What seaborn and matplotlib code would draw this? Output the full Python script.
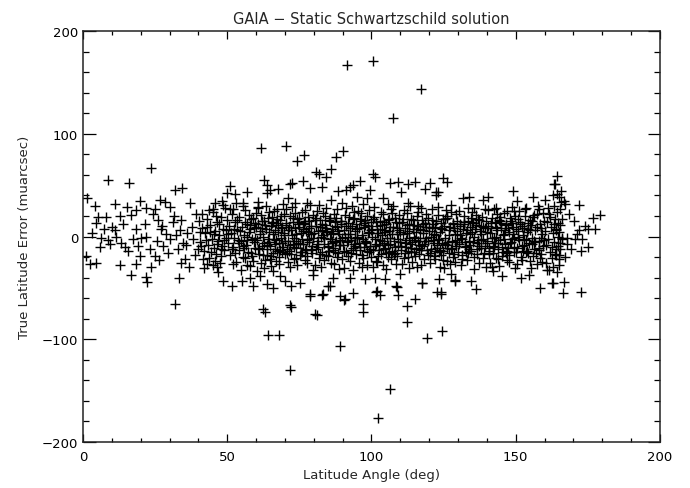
import numpy as np
import pandas as pd
import matplotlib
matplotlib.use("Agg")
import matplotlib.pyplot as plt
import seaborn as sns

# Punkte (Breitengrad in deg, Fehler in muarcsec), vom Bild abgelesen
# linker Rand 0-40 deg
pts_edge_left = [
    (1.4, 37), (4.0, 30), (11.2, 32), (19.9, 35), (15.3, 29), (18.5, 26), (26.6, 36),
    (28.3, 34), (37.2, 33), (5.2, 19), (8.1, 19), (4.6, 13), (12.9, 20), (16.7, 21),
    (7.2, 7), (11.0, 6), (6.4, -1), (6.0, -10), (9.2, -7), (0.9, -19), (2.3, -27),
    (4.4, -26), (12.7, -28), (16.5, -37), (18.3, -27), (21.9, -39), (22.3, -44),
    (23.7, -30), (33.3, -40), (13.3, -6), (14.4, -10), (15.6, -14), (11.6, 0),
    (19.1, -9), (19.6, -19), (18.5, 7), (20.2, -1), (21.4, 12), (24.3, 22), (24.8, 27),
    (23.1, -12), (24.8, -19), (26.3, -23), (27.7, -9), (28.9, 2), (27.1, 7), (30.0, -2),
    (31.2, 14), (33.5, 6), (34.5, -6), (32.9, -12), (35.2, -22), (36.7, -30), (37.7, 9),
    (38.1, -2), (39.3, 22), (39.9, -12), (40.4, 4), (30.3, 29), (31.4, 20), (21.9, 28),
    (27.4, 10), (21.9, 0), (3.1, 3), (8.8, -3), (14.0, 12), (17.3, -2), (25.5, -4),
    (29.5, -16), (32.2, 1), (34.0, 16), (35.8, -8), (36.2, 3), (38.8, -18), (33.8, -26),
    (26.0, 16), (10.1, 9),
]

pts_040_050 = [
    (40.5, -5), (41.2, 8), (41.8, -14), (42.3, 3), (42.9, 17), (43.4, -8), (43.8, -21),
    (44.1, 11), (44.6, -2), (45.0, 24), (45.3, -11), (45.7, 5), (46.0, -17), (46.4, 14),
    (46.8, -4), (47.1, 1), (47.5, -26), (47.9, 19), (48.2, -9), (48.6, 7), (49.0, -13),
    (49.3, 28), (49.7, -1), (40.2, 15), (41.5, -22), (42.7, -3), (43.1, 9), (44.3, -15),
    (45.5, 2), (46.2, 20), (46.6, -7), (47.3, 12), (48.0, -19), (48.8, -3), (49.5, 6),
    (42.0, -31), (44.9, -28), (46.9, -35), (48.4, 31), (43.6, 26), (45.9, -24),
    (47.7, -12), (49.9, 16), (41.0, -9), (44.0, 4),
]

pts_050_060 = [
    (50.2, -6), (50.6, 10), (51.0, -18), (51.3, 3), (51.7, 22), (52.0, -10), (52.4, -1),
    (52.8, 14), (53.1, -25), (53.5, 6), (53.9, -13), (54.2, 19), (54.6, -4), (55.0, 9),
    (55.3, -20), (55.7, 1), (56.1, 26), (56.5, -8), (56.8, 12), (57.2, -15), (57.6, 4),
    (58.0, -29), (58.3, 17), (58.7, -2), (59.1, 8), (59.5, -11), (59.8, 23), (50.9, 27),
    (51.9, -27), (52.6, -16), (53.3, 16), (54.0, -6), (54.9, -33), (55.5, 30),
    (56.3, -21), (57.0, 0), (57.9, 11), (58.5, -19), (59.3, -5), (50.4, 2), (52.2, 7),
    (53.7, -3), (55.9, -11), (57.4, 21), (58.9, -24), (51.5, -12), (54.4, 5),
    (56.7, -28), (59.7, 13), (53.0, 33),
]

pts_060_070 = [
    (60.2, -3), (60.5, 12), (60.9, -17), (61.3, 5), (61.6, 21), (62.0, -9), (62.4, 0),
    (62.7, 15), (63.1, -23), (63.5, 7), (63.8, -12), (64.2, 18), (64.6, -5), (65.0, 10),
    (65.3, -19), (65.7, 2), (66.1, 25), (66.4, -7), (66.8, 13), (67.2, -14), (67.5, 4),
    (67.9, -27), (68.3, 16), (68.6, -1), (69.0, 9), (69.4, -10), (69.7, 22), (60.7, 28),
    (61.8, -26), (62.9, -31), (63.3, 30), (64.0, -2), (64.8, -22), (65.5, 19),
    (66.0, -16), (66.6, 6), (67.4, 27), (68.0, -20), (68.9, -6), (69.5, 3), (61.1, -11),
    (62.2, 8), (63.9, -8), (65.1, -29), (66.9, -3), (67.7, 11), (68.4, -13), (69.2, 32),
    (60.3, -34), (64.4, 24), (65.9, 14), (67.0, -24), (68.8, 20), (62.5, -18),
    (69.9, -17),
]

pts_070_080 = [
    (70.1, -4), (70.5, 11), (70.8, -16), (71.2, 6), (71.6, 20), (71.9, -8), (72.3, 1),
    (72.7, 14), (73.0, -22), (73.4, 8), (73.8, -11), (74.1, 17), (74.5, -6), (74.9, 9),
    (75.2, -18), (75.6, 3), (76.0, 24), (76.3, -7), (76.7, 12), (77.1, -13), (77.4, 5),
    (77.8, -26), (78.2, 15), (78.5, -2), (78.9, 10), (79.3, -9), (79.6, 21), (70.3, 27),
    (71.0, -25), (71.8, -30), (72.5, 29), (73.2, -1), (73.9, -21), (74.7, 18),
    (75.4, -15), (76.1, 7), (76.9, 26), (77.6, -19), (78.3, -5), (79.0, 2), (70.7, -12),
    (71.4, 9), (72.9, -7), (74.3, -28), (75.8, -2), (76.5, 13), (77.2, -12), (78.7, 31),
    (79.8, -33), (73.6, 23), (75.0, 14), (76.8, -23), (78.0, 19), (72.0, -17),
    (79.4, -16), (74.0, -4), (77.9, 4),
]

pts_080_090 = [
    (80.2, 3), (80.6, -12), (80.9, 18), (81.3, -4), (81.7, -21), (82.0, 9), (82.4, 0),
    (82.8, -15), (83.1, 23), (83.5, -7), (83.9, 11), (84.2, -18), (84.6, 4), (85.0, -9),
    (85.3, 16), (85.7, -2), (86.1, -26), (86.4, 7), (86.8, -13), (87.2, 14), (87.5, -5),
    (87.9, 27), (88.3, -16), (88.6, 2), (89.0, -8), (89.4, 12), (89.7, -22), (80.4, -28),
    (81.1, 25), (81.9, 31), (82.6, -30), (83.3, 1), (84.0, 20), (84.8, -19), (85.5, 15),
    (86.2, -6), (87.0, -27), (87.7, 18), (88.4, 5), (89.1, -3), (80.8, 10), (81.5, -10),
    (83.0, 6), (84.4, 28), (85.9, 2), (86.6, -11), (87.3, 10), (88.8, -32), (89.9, 33),
    (83.7, -23), (85.1, -14), (86.9, 22), (88.1, -20), (82.2, 16), (89.5, 15),
    (84.1, 5), (87.8, -4),
]

pts_090_100 = [
    (90.2, -8), (90.6, 6), (90.9, 21), (91.3, -15), (91.7, 2), (92.0, 13), (92.4, -24),
    (92.8, -3), (93.1, 10), (93.5, -11), (93.9, 18), (94.2, -1), (94.6, -17), (95.0, 7),
    (95.3, 25), (95.7, -6), (96.1, -13), (96.4, 15), (96.8, 1), (97.2, -21), (97.5, 9),
    (97.9, -4), (98.3, 20), (98.6, -28), (99.0, 4), (99.4, -9), (99.7, 14), (90.4, -31),
    (91.1, 28), (91.9, -19), (92.6, 8), (93.3, 30), (94.0, -7), (94.8, 12), (95.5, -26),
    (96.2, 23), (97.0, -2), (97.7, 11), (98.4, -14), (99.1, 26), (90.8, 0), (91.5, -5),
    (93.0, -16), (94.4, 5), (95.9, 17), (96.6, -30), (97.3, -10), (98.8, 3),
    (99.9, -20), (93.7, -33), (95.1, -1), (96.9, 32), (98.1, -6), (92.2, 19),
    (99.5, -12), (94.1, 24), (97.8, 16),
]

pts_100_110 = [
    (100.1, 7), (100.4, -13), (100.8, 19), (101.2, -2), (101.5, -24), (101.9, 10),
    (102.3, 3), (102.6, -8), (103.0, 15), (103.4, -17), (103.7, 1), (104.1, 22),
    (104.5, -6), (104.8, -11), (105.2, 12), (105.6, -20), (105.9, 5), (106.3, -1),
    (106.7, 27), (107.0, -14), (107.4, 9), (107.8, -4), (108.1, 18), (108.5, -27),
    (108.9, 2), (109.2, -9), (109.6, 13), (100.6, -30), (101.0, 29), (101.7, 14),
    (102.1, -19), (102.9, -3), (103.2, 24), (103.9, -12), (104.3, 6), (105.0, -32),
    (105.4, -1), (106.1, 17), (106.5, -7), (106.9, -22), (107.6, 30), (108.3, -16),
    (108.7, 8), (109.4, 21), (109.8, -5), (100.3, 0), (102.0, -25), (103.6, 11),
    (104.7, 4), (106.0, -15), (107.2, 23), (108.0, -10), (109.0, -19), (105.7, 16),
    (101.4, -7), (104.0, -28),
]

pts_110_120 = [
    (110.2, -9), (110.5, 14), (110.9, 2), (111.3, -21), (111.6, 8), (112.0, -3),
    (112.4, 23), (112.7, -14), (113.1, 5), (113.5, -7), (113.8, 17), (114.2, -25),
    (114.6, 0), (114.9, 11), (115.3, -12), (115.7, 20), (116.0, -4), (116.4, -17),
    (116.8, 7), (117.1, 28), (117.5, -9), (117.9, 3), (118.2, -22), (118.6, 13),
    (119.0, -1), (119.3, -13), (119.7, 18), (110.7, -27), (111.1, 26), (111.8, -10),
    (112.2, 11), (112.9, -31), (113.3, 30), (114.0, -5), (114.4, 16), (115.1, -19),
    (115.5, 4), (116.2, 24), (116.6, -8), (117.3, -28), (117.7, 12), (118.4, -4),
    (118.8, 22), (119.5, -18), (110.0, 4), (111.5, -16), (113.0, -1), (114.8, -15),
    (116.0, 10), (117.0, -13), (118.0, 6), (119.9, 9), (112.5, -20), (115.9, -30),
    (113.7, -11),
]

pts_120_130 = [
    (120.1, 5), (120.5, -12), (120.8, 16), (121.2, -3), (121.6, -19), (121.9, 9),
    (122.3, 1), (122.7, -8), (123.0, 21), (123.4, -15), (123.8, 4), (124.1, 13),
    (124.5, -6), (124.9, -23), (125.2, 10), (125.6, -1), (126.0, 18), (126.3, -11),
    (126.7, 6), (127.1, -27), (127.4, 24), (127.8, -4), (128.2, 12), (128.5, -17),
    (128.9, 2), (129.3, -9), (129.6, 15), (120.3, -26), (120.9, 27), (121.4, 12),
    (122.1, -22), (122.9, -2), (123.2, 29), (123.9, -13), (124.3, 7), (125.0, -31),
    (125.4, -7), (126.1, 20), (126.5, -5), (126.9, -16), (127.6, 31), (128.3, -20),
    (128.7, 8), (129.4, 22), (129.8, -3), (120.6, 0), (122.0, -14), (123.6, -30),
    (124.7, 17), (126.2, -24), (127.2, 9), (128.0, -11), (129.0, -25), (125.8, 26),
    (121.8, -6), (124.0, -18),
]

pts_130_140 = [
    (130.2, -7), (130.6, 12), (131.0, -1), (131.3, -18), (131.7, 7), (132.1, 20),
    (132.4, -10), (132.8, 3), (133.2, -23), (133.5, 15), (133.9, -4), (134.3, 9),
    (134.6, -14), (135.0, 24), (135.4, 0), (135.7, -20), (136.1, 11), (136.5, -6),
    (136.8, 17), (137.2, -26), (137.6, 5), (137.9, -11), (138.3, 19), (138.7, -2),
    (139.0, -16), (139.4, 8), (139.8, -30), (130.4, 25), (131.1, -28), (131.9, 14),
    (132.6, -15), (133.3, 28), (134.0, -8), (134.8, 4), (135.5, -32), (136.3, 21),
    (137.0, -3), (137.8, 10), (138.5, -21), (139.2, 27), (130.8, 1), (132.3, -5),
    (133.7, -12), (135.2, 13), (136.7, -17), (138.1, 2), (139.6, 15), (131.5, -22),
    (134.5, 18), (137.4, -9), (139.9, -6), (133.0, 6),
]

pts_140_150 = [
    (140.1, -4), (140.5, 10), (140.9, -17), (141.2, 3), (141.6, 18), (142.0, -9),
    (142.3, -1), (142.7, 14), (143.1, -21), (143.4, 6), (143.8, -12), (144.2, 16),
    (144.5, -3), (144.9, 8), (145.3, -19), (145.6, 1), (146.0, 23), (146.4, -7),
    (146.7, 11), (147.1, -14), (147.5, 4), (147.8, -25), (148.2, 15), (148.6, -2),
    (148.9, 9), (149.3, -10), (149.7, 20), (140.3, 26), (141.0, -26), (141.8, -30),
    (142.5, 27), (143.2, 0), (143.9, -22), (144.7, 19), (145.5, -15), (146.2, 6),
    (146.9, 25), (147.6, -18), (148.3, -5), (149.0, 2), (140.7, -11), (141.4, 8),
    (142.9, -6), (144.3, -29), (145.8, -2), (146.5, 12), (147.3, -11), (148.8, 29),
    (149.8, -31), (143.6, 22), (145.0, 13), (146.8, -23), (148.0, 18), (142.1, -16),
    (149.5, -15),
]

pts_150_160 = [
    (150.2, 7), (150.6, -11), (150.9, 17), (151.3, -3), (151.7, -20), (152.0, 10),
    (152.4, 1), (152.8, -8), (153.1, 20), (153.5, -15), (153.9, 4), (154.2, 13),
    (154.6, -6), (155.0, -24), (155.3, 11), (155.7, -1), (156.1, 19), (156.4, -12),
    (156.8, 6), (157.2, -27), (157.5, 22), (157.9, -4), (158.3, 12), (158.6, -17),
    (159.0, 2), (159.4, -9), (159.7, 15), (150.4, -27), (151.0, 25), (151.5, 12),
    (152.2, -23), (153.0, -2), (153.3, 27), (154.0, -14), (154.4, 7), (155.2, -31),
    (155.6, -7), (156.2, 21), (156.6, -5), (157.0, -16), (157.7, 30), (158.4, -21),
    (158.8, 8), (159.5, 23), (159.9, -3), (150.8, 0), (152.6, -14), (154.8, 16),
    (156.0, -19), (158.0, -11), (159.2, -25),
]

pts_160_166 = [
    (160.1, 5), (160.4, -8), (160.8, 14), (161.1, -2), (161.5, 22), (161.8, -15),
    (162.1, 9), (162.4, -21), (162.8, 3), (163.1, 30), (163.4, -5), (163.7, 17),
    (164.0, -12), (164.3, 24), (164.6, 0), (164.9, -28), (165.2, 11), (165.5, -6),
    (165.8, 34), (160.6, -26), (161.3, 28), (162.6, -10), (163.0, -30), (163.9, 6),
    (164.4, 41), (165.0, -18), (165.4, 27), (162.0, 19), (163.6, -17), (164.8, 13),
    (161.0, -33), (165.6, 44), (160.3, 36), (162.9, 40), (164.2, -35), (163.3, 12),
    (165.9, -2),
]

# dichter Kern der Wolke (|err| < 20)
pts_core = [
    (55.4, -9), (56.0, 14), (56.9, -3), (57.8, 7), (58.4, -16), (59.0, 18), (59.6, -1),
    (60.0, 9), (60.8, -12), (61.4, 2), (61.9, 15), (62.6, -6), (63.2, 11), (63.7, -18),
    (64.3, 4), (64.9, -9), (65.6, 13), (66.3, -2), (66.7, -12), (67.3, 17),
    (67.8, -6), (68.5, 8), (69.1, -15), (69.6, 1), (70.4, 13), (70.9, -4), (71.5, -14),
    (72.1, 6), (72.8, 18), (73.3, -10), (73.9, 2), (74.6, 12), (75.1, -7), (75.9, -15),
    (76.4, 5), (77.0, 15), (77.7, -3), (78.4, 8), (79.1, -13), (79.7, -1),
    (80.3, 16), (81.0, -7), (81.6, 5), (82.3, -17), (82.9, 12), (83.6, -1), (84.3, 8),
    (84.9, -10), (85.6, 18), (86.3, -4), (86.7, 3), (87.4, -15), (88.0, 9), (88.7, -8),
    (89.3, 15), (89.8, -1), (90.5, -14), (91.2, 10), (91.8, -4), (92.5, 2),
    (93.0, -13), (93.6, 17), (94.3, -9), (94.9, 0), (95.6, 8), (96.0, -10), (96.7, -18),
    (97.4, 13), (98.0, -5), (98.7, 10), (99.3, -15), (99.8, 6), (100.5, 17),
    (101.1, -9), (101.8, 3), (102.5, -13), (103.1, 7), (103.8, -4), (104.4, 14),
    (105.1, -16),
    (105.8, -8), (106.4, 9), (107.1, 2), (107.7, -17), (108.4, 14), (109.1, -2),
    (109.7, 6), (110.4, -13), (111.0, 17), (111.7, -6), (112.3, 3), (113.0, 12),
    (113.6, -15), (114.3, 7), (115.0, -3), (115.6, 10), (116.3, -11), (116.9, -1),
    (117.6, 16), (118.3, -7),
    (118.9, 9), (119.6, -4), (120.2, -16), (120.9, 8), (121.5, 2), (122.2, 15),
    (122.8, -11), (123.5, -3), (124.2, 8), (124.8, -14), (125.5, 17), (126.1, -8),
    (126.8, 1), (127.5, -12), (128.1, 13), (128.8, -5), (129.5, 5), (130.1, -15),
    (130.7, 10), (131.4, -2),
    (132.0, 12), (132.7, -9), (133.4, -16), (134.1, 2), (134.7, 14), (135.3, -5),
    (136.0, 7), (136.6, -12), (137.3, 16), (137.9, -3), (138.6, 9), (139.3, -9),
    (139.9, 4), (140.6, -14), (141.3, 13), (141.9, -1), (142.6, -10), (143.3, 9),
    (144.0, -6), (144.6, 15),
    (145.4, -10), (146.1, 2), (146.6, -16), (147.4, 8), (148.1, -6), (148.7, 13),
    (149.4, -1), (150.1, -15), (150.7, 5), (151.4, 14), (152.1, -9), (152.9, 8),
    (153.6, -3), (154.3, -16), (154.9, 6), (155.8, 15), (156.5, -4), (157.3, 9),
    (158.1, -13), (158.9, -1),
]

# rechter Rand, dünn besetzt
pts_edge_right = [
    (164.3, 59), (163.5, 51), (165.1, 38), (166.6, 35), (167.2, 32), (172.0, 31),
    (179.3, 21), (176.7, 18), (177.6, 7), (174.1, 10), (175.2, 7), (170.1, 15),
    (171.8, 6), (171.2, 2), (173.0, -2), (170.6, -2), (175.0, -10), (172.7, -14),
    (167.8, -7), (167.2, -20), (164.9, -22), (166.6, -44), (166.4, -55), (172.7, -54),
    (162.6, -45), (166.0, 17), (164.9, 4), (163.8, 7), (166.0, -1), (167.8, -1),
    (164.5, -9), (165.3, -12), (164.1, -18), (168.5, 22), (169.3, -12), (161.6, -33),
]

# Ausreißer und äußerer Saum der Wolke
pts_outliers = [
    (91.6, 167), (100.6, 171), (117.2, 144), (107.6, 115), (70.2, 88), (61.7, 86),
    (90.2, 83), (87.6, 77), (74.1, 73), (76.7, 79), (23.7, 67), (8.7, 55), (15.8, 52),
    (62.7, 55), (100.6, 61), (101.2, 58), (80.8, 63), (81.9, 61), (85.8, 66),
    (84.4, 58), (124.9, 57), (126.0, 53), (76.4, 54), (72.3, 52), (96.0, 54),
    (109.3, 53), (106.4, 52), (115.0, 53), (120.3, 52), (67.7, 46), (64.8, 45),
    (82.7, 48), (88.5, 44), (92.5, 48), (31.8, 45), (34.3, 47), (51.0, 49), (49.8, 42),
    (52.7, 41), (56.7, 43), (63.7, 50), (63.7, 42), (71.7, 51), (78.7, 47), (45.8, 33),
    (48.1, 35), (55.6, 33), (60.8, 34), (60.8, 29), (71.2, 37), (73.5, 33), (77.5, 33),
    (41.1, 22), (45.2, 27), (52.1, 27), (93.6, 50), (112.6, 51), (118.5, 46),
    (91.3, 45), (99.4, 45), (110.3, 43), (122.5, 43), (98.5, 37), (105.7, 32),
    (112.6, 33), (116.1, 30), (123.3, -41), (124.0, -54), (129.0, -43), (134.5, -43),
    (136.2, -51), (154.5, -37), (158.3, -50), (162.8, -45), (148.9, 44), (150.3, 35),
    (156.1, 38), (163.4, 51), (131.6, 37), (133.9, 38), (122.4, 40), (123.0, 43),
    (135.4, 28), (143.2, 28), (153.6, 28), (149.5, 25), (158.2, 27), (31.8, -66),
    (64.1, -96), (67.9, -96), (71.8, -130), (89.1, -107), (102.4, -177),
    (106.4, -148), (112.2, -83), (119.1, -99), (124.3, -92), (62.4, -71), (72.0, -69),
    (81.0, -76), (112.2, -68), (115.0, -61), (97.0, -66), (97.0, -73), (89.0, -58),
    (90.5, -62), (93.7, -55), (78.7, -58), (82.7, -57), (101.6, -54), (103.0, -57),
    (109.3, -57), (122.6, -54), (124.0, -56), (72.0, -48), (85.6, -48), (66.0, -50),
    (108.7, -49), (117.4, -45), (129.0, -42), (83.2, -56), (84.9, -48), (90.7, -61),
    (101.8, -53), (108.6, -48), (117.5, -45), (101.1, -40), (104.6, -41), (92.4, -40),
    (97.8, -41), (86.7, -40), (48.6, -43), (51.5, -48), (55.0, -43), (57.9, -40),
    (59.0, -48), (63.1, -73), (71.8, -67), (63.7, -46), (66.0, -34), (68.3, -38),
    (70.0, -43), (75.2, -45), (78.7, -56), (80.4, -75), (79.8, -37), (42.9, -27),
    (46.3, -30), (61.4, -38), (140.5, 38), (145.2, -38), (151.8, -40), (138.8, 36),
    (142.0, -34), (127.5, -36), (110.0, -36), (95.0, 38), (86.0, 36), (104.0, 37),
]

groups = [pts_edge_left, pts_040_050, pts_050_060, pts_060_070, pts_070_080,
          pts_080_090, pts_090_100, pts_100_110, pts_110_120, pts_120_130,
          pts_130_140, pts_140_150, pts_150_160, pts_160_166, pts_core,
          pts_edge_right, pts_outliers]
df = pd.DataFrame([p for g in groups for p in g], columns=["lat", "err"])

sns.set_theme(style="ticks")
plt.rcParams["font.family"] = ["DejaVu Sans"]
plt.rcParams["axes.edgecolor"] = "#222222"

fig = plt.figure(figsize=(6.9, 4.89), dpi=100)
ax = fig.add_axes([0.1203, 0.094, 0.8362, 0.8406])

sns.scatterplot(data=df, x="lat", y="err", marker="+", s=48, color="black",
                linewidth=1.0, ax=ax, legend=False)

ax.set_xlim(0, 200)
ax.set_ylim(-200, 200)
ax.set_xticks([0, 50, 100, 150, 200])
ax.set_xticks(np.arange(0, 201, 10), minor=True)
ax.set_yticks([-200, -100, 0, 100, 200])
ax.set_yticks(np.arange(-200, 201, 20), minor=True)

# Ticks nach innen auf allen Seiten, wie bei IDL
ax.tick_params(axis="both", which="both", direction="in", top=True, right=True,
               labelsize=9.5, colors="black", width=0.9)
ax.tick_params(axis="x", which="major", length=6)
ax.tick_params(axis="x", which="minor", length=3)
ax.tick_params(axis="y", which="major", length=9)
ax.tick_params(axis="y", which="minor", length=4.5)
ax.tick_params(axis="x", which="both", pad=6)
for s in ax.spines.values():
    s.set_linewidth(1.1)

ax.set_xlabel("Latitude Angle (deg)", fontsize=9.5, labelpad=3)
ax.set_ylabel("True Latitude Error (muarcsec)", fontsize=9.5, labelpad=8)
ax.set_title("GAIA \u2212 Static Schwartzschild solution", fontsize=10.5, pad=6)

fig.savefig("out.png", dpi=100, facecolor="white")
